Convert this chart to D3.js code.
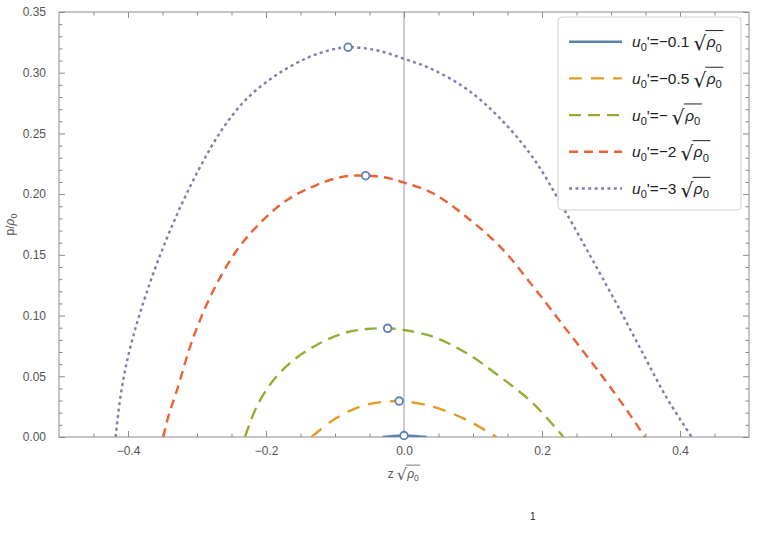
<!DOCTYPE html>
<html>
<head>
<meta charset="utf-8">
<script src="https://cdn.jsdelivr.net/npm/d3@7"></script>
<style>
  body { margin: 0; background: #fff; }
  svg { display: block; font-family: "Liberation Sans", Arial, sans-serif; }
</style>
</head>
<body>
<svg id="area" width="757" height="536"></svg>
<script>
// values, [z*sqrt(rho0), p/rho0]
const curveU01 = [[-0.031, 0], [-0.016, 0.0009], [0.0, 0.0012], [0.016, 0.0009], [0.033, 0]];
const curveU05 = [[-0.134, 0], [-0.1025, 0.014], [-0.064, 0.025], [-0.030, 0.029], [-0.007, 0.0296],
  [0.0, 0.0295], [0.042, 0.025], [0.091, 0.014], [0.134, 0]];
const curveU1 = [[-0.2304, 0], [-0.2135, 0.025], [-0.189, 0.047], [-0.160, 0.0634], [-0.1266, 0.0758],
  [-0.088, 0.0854], [-0.054, 0.0889], [-0.0237, 0.0895], [0.0, 0.0881], [0.042, 0.0826],
  [0.091, 0.0689], [0.139, 0.0497], [0.187, 0.0277], [0.231, 0]];
const curveU2 = [[-0.349, 0], [-0.341, 0.018], [-0.329, 0.0387], [-0.305, 0.0826], [-0.276, 0.121],
  [-0.242, 0.154], [-0.209, 0.176], [-0.170, 0.195], [-0.127, 0.2075], [-0.088, 0.2144],
  [-0.0556, 0.2152], [-0.025, 0.2135], [0.0, 0.2095], [0.042, 0.2007], [0.091, 0.181],
  [0.139, 0.157], [0.187, 0.124], [0.236, 0.088], [0.284, 0.0525], [0.323, 0.022], [0.349, 0]];
const curveU3 = [[-0.418, 0], [-0.411, 0.033], [-0.402, 0.061], [-0.390, 0.088], [-0.375, 0.1155],
  [-0.358, 0.143], [-0.339, 0.170], [-0.317, 0.198], [-0.293, 0.225], [-0.264, 0.253],
  [-0.228, 0.2785], [-0.184, 0.2985], [-0.141, 0.312], [-0.107, 0.3187], [-0.081, 0.321],
  [-0.040, 0.3185], [0.0, 0.3115], [0.042, 0.3025], [0.091, 0.2865], [0.139, 0.2625],
  [0.187, 0.230], [0.231, 0.1885], [0.274, 0.145], [0.313, 0.1045], [0.347, 0.068],
  [0.381, 0.032], [0.417, 0]];

// maxima marked with open circles
const peaks = [[0.0, 0.0012], [-0.007, 0.0296], [-0.0237, 0.0895], [-0.0556, 0.2152], [-0.081, 0.321]];

const coefLabels = ['\u22120.1', '\u22120.5', '\u2212', '\u22122', '\u22123'];
const colors = ['#5e81b5', '#e19c24', '#8fb032', '#eb6235', '#8778b3'];
const dashes = [null, '13,9', '12,7', '9,6', '3,3.4'];
const series = [curveU01, curveU05, curveU1, curveU2, curveU3];

const xTicks = [-0.4, -0.2, 0.0, 0.2, 0.4];
const yTicks = [0, 0.05, 0.1, 0.15, 0.2, 0.25, 0.3, 0.35];

const margin = { top: 12, right: 8, bottom: 99, left: 59 };
const width = 757 - margin.left - margin.right;
const height = 536 - margin.top - margin.bottom;

const svg = d3.select('#area');

const x = d3.scaleLinear().domain([-0.5, 0.5]).range([margin.left, margin.left + width]);
const y = d3.scaleLinear().domain([0, 0.35]).range([margin.top + height, margin.top]);

const frameColor = '#8c8c8c';
const textColor = '#555';

svg.append('defs').append('clipPath').attr('id', 'plotclip')
  .append('rect')
  .attr('x', margin.left).attr('y', margin.top)
  .attr('width', width).attr('height', height);

// zero line
svg.append('line')
  .attr('x1', x(0)).attr('x2', x(0))
  .attr('y1', y(0.35)).attr('y2', y(0))
  .attr('stroke', '#999').attr('stroke-width', 1);

// frame ticks (inward on all four sides)
const xMinor = d3.range(-0.45, 0.5, 0.05).filter((v) => !xTicks.some((t) => Math.abs(t - v) < 1e-6));
const yMinor = d3.range(0.01, 0.35, 0.01).filter((v) => !yTicks.some((t) => Math.abs(t - v) < 1e-6));

function frameAxis(gen, translate, size, tickVals, fmt) {
  const g = svg.append('g').attr('transform', translate)
    .call(gen.tickValues(tickVals).tickSize(size).tickFormat(fmt));
  g.select('.domain').remove();
  g.selectAll('line').attr('stroke', frameColor);
  return g;
}

const bottomMajor = frameAxis(d3.axisBottom(x), `translate(0,${y(0)})`, -6, xTicks, d3.format('.1f'));
bottomMajor.selectAll('text').attr('y', 9).attr('fill', textColor).style('font-size', '12px')
  .text((d) => d3.format('.1f')(d).replace('-', '\u2212'));
frameAxis(d3.axisBottom(x), `translate(0,${y(0)})`, -3.5, xMinor, '');
frameAxis(d3.axisTop(x), `translate(0,${y(0.35)})`, -6, xTicks, '');
frameAxis(d3.axisTop(x), `translate(0,${y(0.35)})`, -3.5, xMinor, '');

const leftMajor = frameAxis(d3.axisLeft(y), `translate(${x(-0.5)},0)`, -6, yTicks, d3.format('.2f'));
leftMajor.selectAll('text').attr('x', -13).attr('fill', textColor).style('font-size', '12px');
frameAxis(d3.axisLeft(y), `translate(${x(-0.5)},0)`, -3.5, yMinor, '');
frameAxis(d3.axisRight(y), `translate(${x(0.5)},0)`, -6, yTicks, '');
frameAxis(d3.axisRight(y), `translate(${x(0.5)},0)`, -3.5, yMinor, '');

svg.append('rect')
  .attr('x', margin.left).attr('y', margin.top)
  .attr('width', width).attr('height', height)
  .attr('fill', 'none').attr('stroke', frameColor).attr('stroke-width', 1);

// curves
const line = d3.line()
  .x((d) => x(d[0]))
  .y((d) => y(d[1]))
  .curve(d3.curveCatmullRom.alpha(0.5));

svg.append('g').attr('clip-path', 'url(#plotclip)')
  .selectAll('path')
  .data(series)
  .enter().append('path')
  .attr('d', line)
  .attr('fill', 'none')
  .attr('stroke', (d, i) => colors[i])
  .attr('stroke-width', 2.4)
  .attr('stroke-dasharray', (d, i) => dashes[i]);

svg.append('g')
  .selectAll('circle')
  .data(peaks)
  .enter().append('circle')
  .attr('cx', (d) => x(d[0]))
  .attr('cy', (d) => y(d[1]))
  .attr('r', 3.8)
  .attr('fill', '#fff')
  .attr('stroke', '#5e81b5')
  .attr('stroke-width', 1.8);

// sqrt(rho0) drawn as text plus an overbar
function sqrtRho(g, x0, baseline, size, color) {
  const rad = g.append('text')
    .attr('x', x0).attr('y', baseline + size * 0.2)
    .attr('fill', color)
    .style('font-family', '"DejaVu Sans", sans-serif')
    .style('font-size', `${size * 1.3}px`)
    .text('\u221a');
  const rw = rad.node().getComputedTextLength();
  const body = g.append('text')
    .attr('x', x0 + rw + 0.5).attr('y', baseline)
    .attr('fill', color)
    .style('font-size', `${size}px`);
  body.append('tspan').style('font-style', 'italic').text('\u03c1');
  body.append('tspan').attr('dy', size * 0.28).style('font-size', `${size * 0.72}px`).text('0');
  const bw = body.node().getComputedTextLength();
  const top = baseline + size * 0.2 - size * 1.3 * 0.98;
  g.append('line')
    .attr('x1', x0 + rw - 0.8).attr('x2', x0 + rw + bw + 2)
    .attr('y1', top).attr('y2', top)
    .attr('stroke', color).attr('stroke-width', size * 0.065);
  return rw + bw + 2;
}

// axis labels
const xl = svg.append('g');
const xlz = xl.append('text')
  .attr('x', 0).attr('y', 0)
  .attr('fill', textColor).style('font-size', '12px').text('z');
const zw = xlz.node().getComputedTextLength() + 3;
const sw = sqrtRho(xl, zw, 0, 12, textColor);
xl.attr('transform', `translate(${x(0) - (zw + sw) / 2},${y(0) + 41})`);

const yl = svg.append('text')
  .attr('transform', `translate(14,${y(0.175)}) rotate(-90)`)
  .attr('text-anchor', 'middle')
  .attr('fill', textColor).style('font-size', '12px');
yl.append('tspan').text('p/');
yl.append('tspan').style('font-style', 'italic').text('\u03c1');
yl.append('tspan').attr('dy', 3).style('font-size', '9px').text('0');

// legend
const lg = svg.append('g').attr('transform', 'translate(558,17)');
lg.append('rect')
  .attr('width', 183).attr('height', 193)
  .attr('rx', 4)
  .attr('fill', '#fff')
  .attr('stroke', '#d0d0d0').attr('stroke-width', 1);

coefLabels.forEach((lab, i) => {
  const cy = 24.7 + i * 36.7;
  lg.append('line')
    .attr('x1', 11).attr('x2', 64)
    .attr('y1', cy).attr('y2', cy)
    .attr('stroke', colors[i])
    .attr('stroke-width', 2.4)
    .attr('stroke-dasharray', dashes[i]);
  const t = lg.append('text')
    .attr('x', 74).attr('y', cy + 5.5)
    .attr('fill', '#222').style('font-size', '15.5px');
  t.append('tspan').style('font-style', 'italic').text('u');
  t.append('tspan').attr('dy', 4).style('font-size', '11px').text('0');
  t.append('tspan').attr('dy', -4).text(`'=${lab}`);
  const tw = t.node().getComputedTextLength();
  sqrtRho(lg, 74 + tw + 4, cy + 5.5, 15.5, '#222');
});

// cropped text from the page below the figure
svg.append('text')
  .attr('x', 530).attr('y', 520)
  .attr('fill', '#222').style('font-size', '10px')
  .text('1');
</script>
</body>
</html>
